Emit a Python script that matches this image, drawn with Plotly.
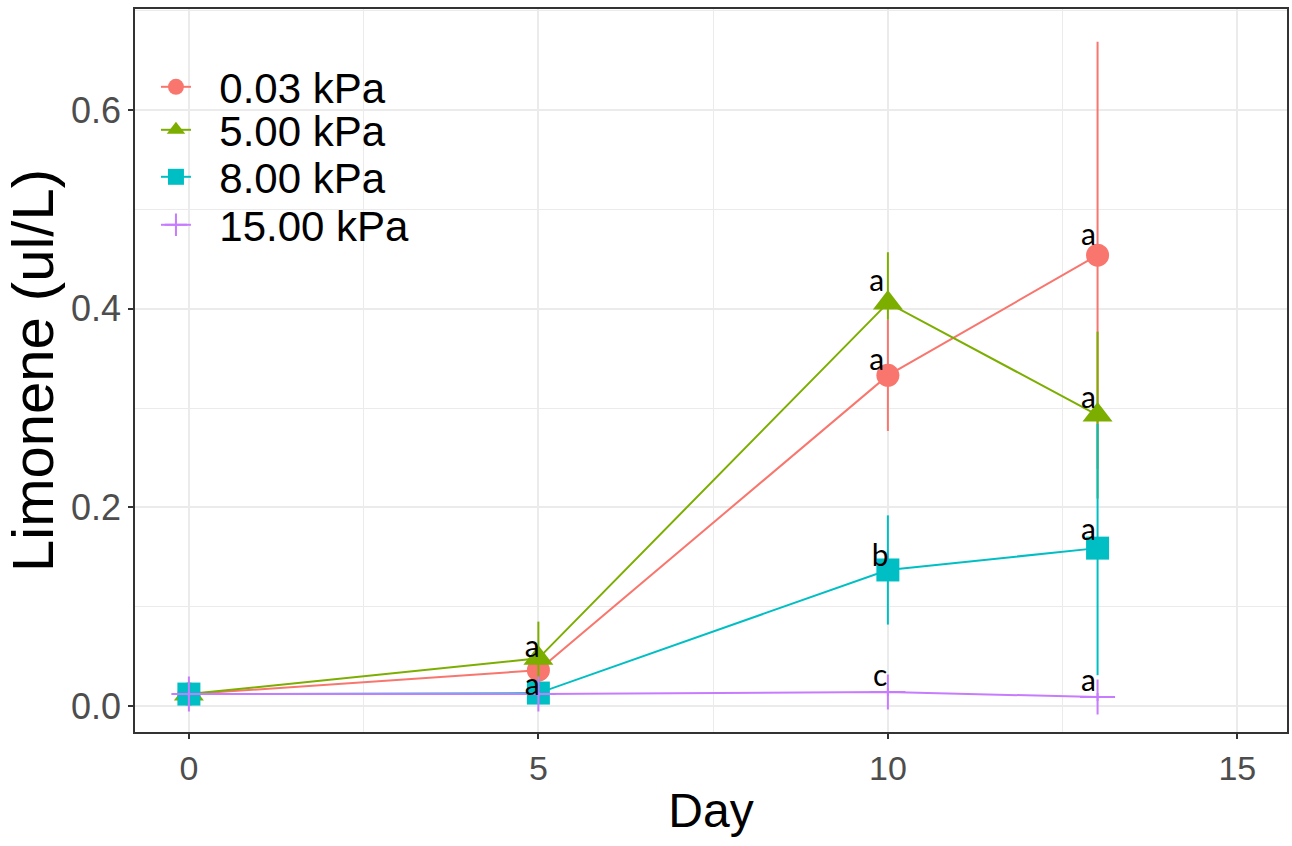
import plotly.graph_objects as go

# ---- data ----
days = [0, 5, 10, 13]
series_names = ["0.03 kPa", "5.00 kPa", "8.00 kPa", "15.00 kPa"]

mean_003 = [0.012, 0.036, 0.333, 0.454]
up_003 = [0.004, 0.006, 0.056, 0.215]
down_003 = [0.004, 0.006, 0.056, 0.215]

mean_500 = [0.012, 0.048, 0.406, 0.293]
up_500 = [0.008, 0.037, 0.051, 0.084]
down_500 = [0.008, 0.037, 0.017, 0.084]

mean_800 = [0.012, 0.013, 0.137, 0.159]
up_800 = [0.003, 0.003, 0.055, 0.125]
down_800 = [0.003, 0.003, 0.055, 0.128]

mean_1500 = [0.012, 0.012, 0.014, 0.009]
up_1500 = [0.002, 0.002, 0.004, 0.004]
down_1500 = [0.002, 0.002, 0.004, 0.004]

label_x = [4.91, 4.91, 9.84, 9.84, 9.89, 9.89, 12.87, 12.87, 12.87, 12.87]
label_y = [0.057, 0.019, 0.426, 0.346, 0.149, 0.028, 0.472, 0.308, 0.175, 0.023]
label_text = ["a", "a", "a", "a", "b", "c", "a", "a", "a", "a"]

x_ticks = [0, 5, 10, 15]
x_tick_text = ["0", "5", "10", "15"]
y_ticks = [0.0, 0.2, 0.4, 0.6]
y_tick_text = ["0.0", "0.2", "0.4", "0.6"]

colors = ["#F8766D", "#7CAE00", "#00BFC4", "#C77CFF"]
symbols = ["circle", "triangle-up", "square", "cross-thin"]
sizes = [23, 26, 23, 25]

means = [mean_003, mean_500, mean_800, mean_1500]
ups = [up_003, up_500, up_800, up_1500]
downs = [down_003, down_500, down_800, down_1500]

# one legend box per series so the row spacing can follow the reference
legend_ids = ["legend", "legend2", "legend3", "legend4"]
legend_rows_px = [87, 130, 177, 225]

W, H = 1292, 846
ML, MR, MT, MB = 135, 3, 9, 114
plot_w = W - ML - MR
plot_h = H - MT - MB

fig = go.Figure()
for name, m, u, d, c, s, sz, lg in zip(series_names, means, ups, downs, colors,
                                        symbols, sizes, legend_ids):
    marker = dict(color=c, symbol=s, size=sz)
    if s == "cross-thin":
        marker["line"] = dict(color=c, width=2)
    else:
        marker["line"] = dict(width=0)
    fig.add_trace(go.Scatter(
        x=days, y=m, name="\u00a0\u00a0" + name, mode="lines+markers",
        line=dict(color=c, width=2),
        marker=marker, legend=lg,
        error_y=dict(type="data", array=u, arrayminus=d, symmetric=False,
                     color=c, thickness=2, width=0),
    ))

fig.add_trace(go.Scatter(
    x=label_x, y=label_y, text=label_text, mode="text",
    textfont=dict(family="Lato, Open Sans, sans-serif", size=30, color="black"),
    showlegend=False, hoverinfo="skip",
))

axis_common = dict(
    showline=True, linecolor="#333333", linewidth=1.5, mirror=True,
    ticks="outside", ticklen=5, tickwidth=1.5, tickcolor="#333333",
    showgrid=True, gridcolor="#EBEBEB", gridwidth=1.5,
    zeroline=False,
)

legend_layouts = {}
for lg, row in zip(legend_ids, legend_rows_px):
    legend_layouts[lg] = dict(
        x=(156 - ML) / plot_w, y=1 - (row - MT) / plot_h,
        xanchor="left", yanchor="middle",
        bgcolor="rgba(0,0,0,0)", borderwidth=0,
        font=dict(family="Liberation Sans, Arial, sans-serif", size=42, color="black"),
        itemsizing="trace",
    )

# white key background behind the legend rows (above the grid, below the data)
legend_bg = dict(
    type="rect", xref="paper", yref="paper", layer="between",
    x0=(150 - ML) / plot_w, x1=(428 - ML) / plot_w,
    y0=1 - (252 - MT) / plot_h, y1=1 - (62 - MT) / plot_h,
    fillcolor="white", line=dict(width=0),
)

fig.update_layout(
    width=W, height=H,
    margin=dict(l=ML, r=MR, t=MT, b=MB),
    paper_bgcolor="white", plot_bgcolor="white",
    font=dict(family="Liberation Sans, Arial, sans-serif"),
    xaxis=dict(
        range=[-0.771, 15.71], tickvals=x_ticks, ticktext=x_tick_text,
        minor=dict(dtick=2.5, tick0=0, showgrid=True, gridcolor="#EBEBEB", gridwidth=0.8, ticks=""),
        title=dict(text="Day", font=dict(size=48, color="black"), standoff=8),
        tickfont=dict(family="Liberation Sans, Arial, sans-serif", size=34, color="#4D4D4D"),
        **axis_common,
    ),
    yaxis=dict(
        range=[-0.0262, 0.702], tickvals=y_ticks, ticktext=y_tick_text,
        minor=dict(dtick=0.1, tick0=0, showgrid=True, gridcolor="#EBEBEB", gridwidth=0.8, ticks=""),
        title=dict(text="Limonene (ul/L)", font=dict(size=58, color="black"), standoff=0),
        tickfont=dict(family="Liberation Sans, Arial, sans-serif", size=36, color="#4D4D4D"),
        **axis_common,
    ),
    shapes=[legend_bg],
    showlegend=True,
    **legend_layouts,
)

fig.write_html("out.html")
